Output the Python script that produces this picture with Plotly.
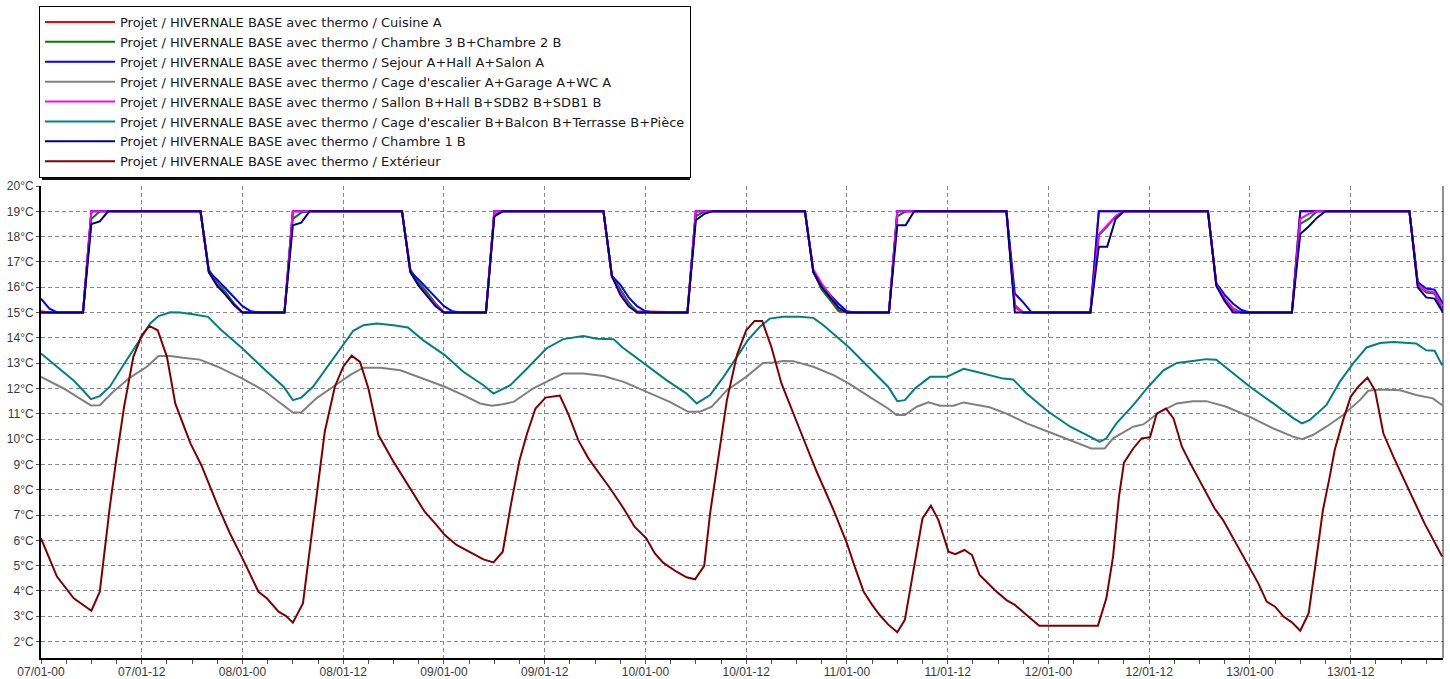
import pandas as pd
import plotly.graph_objects as go

START = pd.Timestamp("2012-01-07 00:00")

# ---------------- data (hours since 07/01 00:00, temperature in °C) ----------------
cuisine_h = [0, 1, 5, 6, 19, 20, 21, 22, 23, 24, 29, 30, 43, 44, 45, 46, 47, 48, 53, 54, 67, 68, 69, 70, 71,
             77, 78, 91, 92, 93, 94, 95, 96, 101, 102, 115, 116, 117, 125, 126, 139, 140, 141, 142, 143,
             149, 150, 163, 164, 165, 166, 167]
cuisine_t = [15.05, 15, 15, 19, 19, 16.6, 16.05, 15.75, 15.35, 15, 15, 19, 19, 16.6, 16.1, 15.75, 15.35, 15,
             15, 19, 19, 16.4, 15.85, 15.35, 15.05, 15, 19, 19, 16.6, 15.95, 15.5, 15.05, 15, 15, 19, 19,
             15.2, 15, 15, 19, 19, 16.1, 15.5, 15.1, 15, 15, 19, 19, 16.1, 15.8, 15.75, 15.1]

chambre32_h = [0, 5, 6, 7, 19, 20, 21, 22, 23, 24, 29, 30, 31, 32, 43, 44, 45, 46, 47, 48, 53, 54, 55, 67, 68,
               69, 70, 71, 77, 78, 79, 91, 92, 93, 94, 95, 96, 101, 102, 103, 115, 116, 117, 125, 126, 127,
               128, 129, 139, 140, 141, 142, 143, 149, 150, 151, 152, 163, 164, 165, 166, 167]
chambre32_t = [15, 15, 18.7, 19, 19, 16.7, 16.2, 15.8, 15.35, 15, 15, 18.7, 18.95, 19, 19, 16.7, 16.2, 15.8,
               15.35, 15, 15, 18.85, 19, 19, 16.45, 15.9, 15.4, 15, 15, 18.8, 19, 19, 16.6, 15.9, 15.5, 15.1,
               15, 15, 18.8, 19, 19, 15.3, 15, 15, 18.05, 18.4, 18.8, 19, 19, 16.1, 15.55, 15.15, 15, 15,
               18.5, 18.7, 19, 19, 16.1, 15.8, 15.75, 15.1]

sejour_h = [0, 1, 2, 5, 6, 19, 20, 21, 22, 23, 24, 25, 26, 29, 30, 43, 44, 45, 46, 47, 48, 49, 50, 53, 54, 67,
            68, 69, 70, 71, 72, 73, 77, 78, 91, 92, 93, 94, 95, 96, 97, 101, 102, 115, 116, 117, 118, 125, 126,
            139, 140, 141, 142, 143, 144, 149, 150, 163, 164, 165, 166, 167]
sejour_t = [15.55, 15.15, 15, 15, 19, 19, 16.6, 16.3, 15.95, 15.6, 15.25, 15.05, 15, 15, 19, 19, 16.6, 16.3,
            15.95, 15.6, 15.25, 15.05, 15, 15, 19, 19, 16.45, 16.1, 15.6, 15.25, 15.05, 15, 15, 19, 19, 16.6,
            16.1, 15.7, 15.35, 15.05, 15, 15, 19, 19, 15.75, 15.4, 15, 15, 19, 19, 16.15, 15.7, 15.35, 15.1,
            15, 15, 19, 19, 16.2, 15.95, 15.9, 15.35]

cage_a_h = [0, 2.7, 4.6, 5.95, 7.0, 8.6, 10.6, 12.6, 14.0, 15.4, 16.9, 18.9, 20.9, 24.0, 26.5, 28.9, 30.0, 31.0,
            32.8, 34.8, 36.8, 38.4, 40.4, 42.8, 45.5, 48.1, 50.3, 52.3, 53.7, 55.0, 56.3, 58.6, 60.6, 62.2,
            64.6, 67.0, 69.4, 72.1, 74.9, 77.1, 78.5, 79.9, 81.7, 84.0, 86.0, 87.2, 88.4, 89.6, 92.0, 94.4,
            96.2, 98.7, 100.9, 101.9, 102.9, 104.3, 105.7, 107.1, 108.7, 109.9, 111.2, 113.0, 115.0, 117.4,
            120.0, 122.6, 125.1, 126.7, 127.7, 130.1, 131.3, 133.3, 135.3, 137.2, 138.8, 141.2, 144.0, 146.8,
            149.2, 150.2, 151.5, 153.1, 155.1, 157.1, 158.1, 159.5, 161.9, 163.8, 165.8, 166.9]
cage_a_t = [12.46, 12.0, 11.61, 11.33, 11.34, 11.87, 12.43, 12.86, 13.28, 13.28, 13.21, 13.14, 12.88, 12.39,
            11.93, 11.34, 11.05, 11.05, 11.61, 12.07, 12.53, 12.82, 12.82, 12.72, 12.39, 12.07, 11.74, 11.41,
            11.32, 11.38, 11.47, 12.0, 12.33, 12.59, 12.59, 12.49, 12.26, 11.87, 11.47, 11.08, 11.08, 11.28,
            11.93, 12.46, 13.01, 13.03, 13.09, 13.08, 12.86, 12.53, 12.2, 11.67, 11.21, 10.95, 10.95, 11.28,
            11.45, 11.32, 11.32, 11.45, 11.36, 11.26, 11.01, 10.62, 10.29, 9.96, 9.63, 9.63, 10.03, 10.49,
            10.58, 11.08, 11.41, 11.5, 11.5, 11.28, 10.88, 10.42, 10.09, 10.0, 10.16, 10.49, 10.95, 11.54,
            11.91, 11.96, 11.93, 11.74, 11.61, 11.34]

sallon_h = [0, 5, 6, 19, 20, 21, 22, 23, 24, 29, 30, 43, 44, 45, 46, 47, 48, 53, 54, 67, 68, 69, 70, 71, 77, 78,
            91, 92, 93, 94, 95, 96, 101, 102, 115, 116, 117, 125, 126, 127, 128, 129, 139, 140, 141, 142, 143,
            149, 150, 151, 152, 163, 164, 165, 166, 167]
sallon_t = [15, 15, 19, 19, 16.6, 16.1, 15.7, 15.3, 15, 15, 19, 19, 16.6, 16.05, 15.7, 15.3, 15, 15, 19, 19,
            16.45, 15.8, 15.3, 15, 15, 19, 19, 16.7, 16.15, 15.65, 15.2, 15, 15, 19, 19, 15.25, 15, 15, 18.1,
            18.45, 18.8, 19, 19, 16.1, 15.55, 15.15, 15, 15, 18.7, 18.9, 19, 19, 16.1, 15.85, 15.8, 15.15]

cage_b_h = [0, 1.9, 3.85, 5.0, 5.95, 7.0, 8.2, 9.8, 11.0, 12.0, 13.0, 14.0, 15.4, 16.6, 18.1, 19.9, 21.5, 24.0,
            26.5, 28.9, 30.0, 31.0, 32.4, 34.4, 36.0, 37.2, 38.4, 40.0, 42.0, 43.7, 45.5, 48.1, 50.3, 52.7,
            53.9, 55.0, 55.9, 57.9, 60.2, 62.2, 64.6, 66.2, 68.2, 69.2, 72.1, 74.5, 76.9, 78.1, 79.7, 81.3,
            82.9, 84.2, 85.6, 86.8, 88.4, 90.4, 92.0, 93.2, 96.2, 98.3, 100.9, 102.0, 102.9, 104.1, 105.9,
            107.9, 109.9, 111.4, 113.0, 114.6, 115.8, 117.4, 120.0, 122.6, 125.0, 126.1, 126.9, 128.1, 130.1,
            131.9, 133.7, 135.3, 137.2, 138.8, 140.0, 141.6, 144.0, 146.8, 149.2, 150.2, 151.1, 153.1, 154.7,
            156.3, 157.9, 159.5, 161.1, 163.8, 165.0, 166.0, 166.9]
cage_b_t = [13.38, 12.86, 12.33, 11.93, 11.58, 11.7, 12.07, 12.92, 13.51, 14.04, 14.57, 14.86, 15.01, 15.0,
            14.93, 14.83, 14.3, 13.58, 12.79, 12.07, 11.54, 11.64, 12.07, 12.99, 13.71, 14.28, 14.5, 14.57,
            14.5, 14.41, 13.91, 13.32, 12.66, 12.13, 11.8, 12.0, 12.13, 12.79, 13.58, 13.95, 14.07, 13.97,
            13.95, 13.64, 12.92, 12.33, 11.8, 11.41, 11.74, 12.46, 13.25, 13.91, 14.43, 14.76, 14.83, 14.83,
            14.79, 14.5, 13.64, 12.92, 12.07, 11.5, 11.54, 12.0, 12.46, 12.46, 12.78, 12.66, 12.53, 12.39,
            12.36, 11.8, 11.08, 10.49, 10.09, 9.89, 10.03, 10.62, 11.34, 12.07, 12.72, 13.01, 13.09, 13.16,
            13.14, 12.72, 12.07, 11.41, 10.82, 10.62, 10.75, 11.34, 12.26, 12.99, 13.62, 13.8, 13.84, 13.78,
            13.51, 13.49, 12.92]

chambre1_h = [0, 5, 6, 7, 8, 19, 20, 21, 22, 23, 24, 29, 30, 31, 32, 43, 44, 45, 46, 47, 48, 53, 54, 55, 67, 68,
              69, 70, 71, 77, 78, 79, 80, 91, 92, 93, 94, 95, 96, 101, 102, 103, 104, 115, 116, 125, 126, 127,
              128, 129, 139, 140, 141, 142, 149, 150, 151, 152, 153, 163, 164, 165, 166, 167]
chambre1_t = [15, 15, 18.5, 18.6, 19, 19, 16.6, 16.05, 15.7, 15.3, 15, 15, 18.45, 18.55, 19, 19, 16.6, 16.05,
              15.65, 15.25, 15, 15, 18.8, 19, 19, 16.45, 15.7, 15.25, 15, 15, 18.65, 18.9, 19, 19, 16.6, 16.0,
              15.6, 15.2, 15, 15, 18.45, 18.45, 19, 19, 15, 15, 17.6, 17.6, 18.7, 19, 19, 16.05, 15.45, 15.0,
              15, 18.1, 18.4, 18.75, 19, 19, 16.0, 15.6, 15.55, 15.0]

ext_h = [0, 1.9, 3.9, 6.0, 7.0, 8.2, 8.9, 9.9, 11.0, 12.0, 12.9, 13.9, 15.0, 16.0, 17.8, 19.1, 21.1, 22.5, 24.0,
         25.9, 26.9, 28.3, 29.2, 30.0, 31.2, 32.4, 33.1, 33.8, 35.0, 36.0, 37.0, 38.0, 39.0, 40.2, 42.0, 43.7,
         45.7, 47.1, 48.1, 49.5, 51.1, 52.7, 53.9, 55.0, 56.0, 57.0, 57.9, 58.9, 60.1, 61.8, 62.8, 64.0, 65.2,
         67.8, 69.4, 70.7, 72.1, 73.1, 74.1, 75.7, 76.9, 77.9, 79.0, 79.7, 80.7, 81.7, 82.9, 84.0, 85.0, 85.9,
         87.0, 88.2, 90.4, 92.4, 94.4, 96.0, 97.0, 98.0, 99.0, 99.9, 100.9, 102.0, 102.9, 103.9, 105.0, 106.0,
         106.9, 108.1, 108.9, 110.0, 110.9, 111.8, 112.6, 113.6, 115.0, 116.0, 117.4, 118.9, 125.9, 126.9,
         127.7, 128.4, 129.0, 130.1, 131.1, 132.1, 132.9, 134.0, 134.9, 135.9, 136.9, 138.0, 139.8, 140.8,
         142.0, 143.8, 145.0, 146.0, 147.0, 148.0, 149.0, 150.0, 151.0, 152.0, 152.7, 153.5, 154.1, 155.1,
         156.0, 156.9, 158.0, 158.9, 159.9, 161.1, 162.9, 164.8, 166.9]
ext_t = [6.08, 4.57, 3.71, 3.22, 3.97, 7.33, 9.04, 11.28, 13.25, 14.1, 14.47, 14.3, 13.25, 11.4, 9.83, 8.97,
         7.33, 6.28, 5.29, 3.97, 3.71, 3.18, 3.01, 2.75, 3.51, 6.67, 8.5, 10.29, 12.07, 12.86, 13.3, 13.05, 12.0,
         10.16, 9.1, 8.18, 7.13, 6.61, 6.21, 5.82, 5.55, 5.25, 5.13, 5.55, 7.46, 9.17, 10.22, 11.21, 11.64,
         11.72, 11.0, 9.96, 9.24, 8.05, 7.26, 6.54, 6.08, 5.49, 5.12, 4.76, 4.54, 4.46, 4.99, 7.07, 9.3, 11.54,
         13.32, 14.3, 14.67, 14.67, 13.64, 12.2, 10.36, 8.71, 7.2, 5.88, 4.89, 3.97, 3.45, 3.05, 2.68, 2.37,
         2.86, 4.83, 6.87, 7.37, 6.8, 5.55, 5.45, 5.62, 5.42, 4.63, 4.37, 4.04, 3.64, 3.45, 3.05, 2.63, 2.63,
         3.71, 5.36, 7.72, 9.07, 9.63, 10.03, 10.07, 11.01, 11.21, 10.82, 9.7, 9.04, 8.38, 7.26, 6.8, 6.08,
         4.96, 4.3, 3.58, 3.38, 2.99, 2.76, 2.43, 3.12, 5.49, 7.2, 8.5, 9.57, 10.75, 11.67, 12.07, 12.43,
         11.93, 10.22, 9.3, 7.99, 6.67, 5.36]

series_names = [
    "Projet / HIVERNALE BASE avec thermo / Cuisine A",
    "Projet / HIVERNALE BASE avec thermo / Chambre 3 B+Chambre 2 B",
    "Projet / HIVERNALE BASE avec thermo / Sejour A+Hall A+Salon A",
    "Projet / HIVERNALE BASE avec thermo / Cage d'escalier A+Garage A+WC A",
    "Projet / HIVERNALE BASE avec thermo / Sallon B+Hall B+SDB2 B+SDB1 B",
    "Projet / HIVERNALE BASE avec thermo / Cage d'escalier B+Balcon B+Terrasse B+Pièce",
    "Projet / HIVERNALE BASE avec thermo / Chambre 1 B",
    "Projet / HIVERNALE BASE avec thermo / Extérieur",
]
series_colors = ["#FF0000", "#008000", "#0000FF", "#808080", "#FF00FF", "#008080", "#000080", "#800000"]
series_hours = [cuisine_h, chambre32_h, sejour_h, cage_a_h, sallon_h, cage_b_h, chambre1_h, ext_h]
series_temps = [cuisine_t, chambre32_t, sejour_t, cage_a_t, sallon_t, cage_b_t, chambre1_t, ext_t]


def to_time(hours):
    return [START + pd.Timedelta(hours=h) for h in hours]


fig = go.Figure()
for name, color, hrs, temps in zip(series_names, series_colors, series_hours, series_temps):
    fig.add_trace(go.Scatter(x=to_time(hrs), y=temps, mode="lines", name=name,
                             line=dict(color=color, width=2)))

W, H = 1450, 679
ML, MR, MT, MB = 41, 7, 186, 21
PW, PH = W - ML - MR, H - MT - MB


def px_x(px):
    return (px - ML) / PW


def px_y(py):
    return (H - MB - py) / PH


grid_col = "#8a8a8a"
tick_font = dict(family="Liberation Sans, Arial, sans-serif", size=12, color="#3a3a3a")

# legend box (px): left 39, top 6 ; drop shadow offset 3 px
LEG_L, LEG_T, LEG_W, LEG_H = 39, 6, 648, 171

fig.update_layout(
    width=W, height=H,
    margin=dict(l=ML, r=MR, t=MT, b=MB),
    paper_bgcolor="white", plot_bgcolor="white",
    showlegend=True,
    legend=dict(xref="paper", yref="container",
                x=px_x(LEG_L), y=1 - LEG_T / H, xanchor="left", yanchor="top",
                bgcolor="white", bordercolor="black", borderwidth=1,
                font=dict(family="DejaVu Sans", size=13, color="#1a1a1a"),
                itemwidth=70, tracegroupgap=0),
    xaxis=dict(type="date", automargin=False,
               range=[START, START + pd.Timedelta(hours=167)],
               tickformat="%d/%m-%H", dtick=12 * 3600 * 1000, tick0=START,
               showgrid=True, gridcolor=grid_col, griddash="4px,3px", gridwidth=1,
               showline=True, linecolor="black", linewidth=2,
               ticks="outside", ticklen=4, tickcolor="#555", ticklabelstandoff=-2,
               tickfont=tick_font, zeroline=False,
               minor=dict(dtick=3 * 3600 * 1000, ticks="outside", ticklen=4,
                          tickcolor="#555", showgrid=False)),
    yaxis=dict(automargin=False, range=[1.352, 20], dtick=1, tick0=0, ticksuffix="°C",
               showgrid=True, gridcolor=grid_col, griddash="4px,3px", gridwidth=1,
               showline=True, linecolor="black", linewidth=2,
               ticks="outside", ticklen=3, tickcolor="#555",
               tickfont=tick_font, zeroline=False),
    shapes=[
        dict(type="line", xref="paper", yref="paper", x0=1, x1=1, y0=0, y1=1,
             line=dict(color="#222", width=1)),
        dict(type="rect", xref="paper", yref="paper", layer="below",
             x0=px_x(LEG_L + 3), x1=px_x(LEG_L + LEG_W + 3),
             y0=px_y(LEG_T + LEG_H + 3), y1=px_y(LEG_T + 3),
             line=dict(width=0), fillcolor="#111"),
    ],
)

fig.write_html("out.html", config={"displayModeBar": False},
               post_script="document.body.style.margin='0px';document.body.style.overflow='hidden';")
